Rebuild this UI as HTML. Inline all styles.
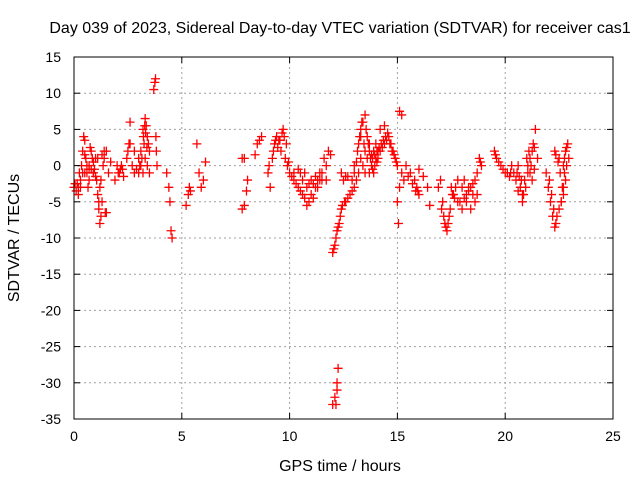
<!DOCTYPE html>
<html><head><meta charset="utf-8"><style>body{margin:0;background:#fff}svg{display:block;font-family:"Liberation Sans",sans-serif}</style></head>
<body>
<svg id="c" width="640" height="480" xmlns="http://www.w3.org/2000/svg">
<text x="340" y="33" font-size="16" text-anchor="middle">Day 039 of 2023, Sidereal Day-to-day VTEC variation (SDTVAR) for receiver cas1</text>
<text x="340" y="471" font-size="16" text-anchor="middle">GPS time / hours</text>
<text x="19" y="238" font-size="16" text-anchor="middle" transform="rotate(-90 19 238)">SDTVAR / TECUs</text>
<g id="grid"></g>
<g id="pts"></g>
<rect x="74" y="57" width="539" height="362" fill="none" stroke="#000"/>
<g id="ticks"></g>
</svg>
<script>
const xTicks=[0,5,10,15,20,25];
const yTicks=[15,10,5,0,-5,-10,-15,-20,-25,-30,-35];
const xs=[0.0,0.1,0.15,0.2,0.25,0.3,0.35,0.4,0.45,0.5,0.55,0.6,0.65,0.7,0.75,0.8,0.85,0.9,0.95,1.0,1.05,1.1,1.15,1.2,1.25,1.3,1.35,1.4,1.45,1.5,1.6,1.7,
0.3,0.5,0.7,0.9,1.1,1.3,1.5,
1.9,2.0,2.1,2.2,2.3,2.5,2.6,2.7,2.8,2.9,3.0,3.1,3.2,
3.0,3.1,3.2,3.3,3.35,3.4,3.45,3.5,
2.6,2.8,3.3,3.4,3.5,
3.7,3.75,3.78,3.8,3.82,3.85,
4.3,4.4,4.45,4.5,4.55,
5.2,5.3,5.35,5.4,
5.7,5.8,5.9,6.0,6.1,
7.8,7.9,7.8,7.9,8.0,8.05,
8.4,8.5,8.6,8.7,
9.0,9.1,9.2,9.3,9.4,9.5,9.6,9.7,9.75,9.8,9.9,
10.0,10.2,10.4,10.6,10.8,11.0,11.2,11.4,11.6,11.8,
10.2,10.4,10.6,10.8,11.0,11.2,11.4,
12.0,12.1,12.2,12.3,12.4,12.6,12.8,13.0,13.1,13.2,
12.0,12.1,12.2,12.25,
12.4,12.5,12.6,12.7,
13.0,13.2,13.4,13.5,13.6,13.7,13.8,13.9,14.0,14.2,14.4,14.6,14.8,14.9,15.0,
13.3,13.5,13.7,14.2,14.4,
15.0,15.05,15.1,15.2,15.3,
15.1,15.2,
15.4,15.6,15.8,15.9,16.0,
16.0,16.2,16.4,16.5,
17.0,17.1,17.2,17.3,17.4,
17.5,17.6,17.8,18.0,18.2,18.4,18.6,18.8,18.9,
17.8,18.0,18.2,18.4,18.6,
19.5,19.6,19.8,20.0,20.2,20.3,
20.5,20.6,20.7,20.8,20.9,21.0,21.1,21.2,21.3,21.4,21.5,
20.4,20.6,20.8,
21.9,22.0,22.1,22.2,22.3,22.4,
22.3,22.5,22.7,22.8,22.9,22.95,22.8,22.7,22.6,22.5,
0.05,0.2,0.4,0.6,0.8,1.0,1.2,1.4,0.5,0.7,0.9,1.15,1.25,
2.05,2.15,2.25,2.45,2.55,3.05,3.15,3.25,3.28,3.32,3.38,3.22,
9.05,9.25,9.35,9.45,9.55,9.65,9.85,9.95,
10.1,10.3,10.5,10.7,10.9,11.1,11.3,11.5,11.7,11.9,10.5,10.7,10.9,11.1,11.3,11.5,11.7,
12.05,12.15,12.25,12.35,12.45,12.55,12.7,12.9,12.15,12.2,
12.9,13.0,13.1,13.15,13.25,13.3,13.35,13.45,13.55,13.65,13.75,13.85,13.95,14.05,14.1,14.3,14.5,14.7,14.85,14.95,
13.3,13.4,13.5,13.6,13.7,13.8,13.9,14.0,14.1,
13.85,13.95,14.05,14.15,14.25,14.35,14.45,14.55,14.65,14.75,
15.5,15.7,15.85,15.95,
16.9,17.05,17.15,17.25,17.35,17.45,17.55,17.65,17.7,17.9,18.1,18.3,18.5,18.7,18.85,18.1,18.3,18.5,18.7,
19.55,19.7,19.9,20.1,20.25,
20.55,20.65,20.75,20.85,20.95,21.05,21.15,21.25,21.35,21.05,21.15,21.25,21.35,
22.05,22.15,22.25,22.35,
22.35,22.45,22.55,22.65,22.75,22.85,22.6,22.7,22.75,22.85];
const ys=[-3,-3.5,-2.5,-4,-1,-2,0,2,4,3.5,1,-1,-3,-2,2.5,2,1,-1,-0.5,1,-2,-4,-6,-8,-7,-5,0,2,-6.5,-6.5,-1,0.5,
-3,-1,0,-1,1,1.5,2,
-2,0,-1,0,-1.5,2,6,0,-1,-0.5,-1,0,-1,
1,2,5,6.5,5.5,4,3,2,
3,2,1,0,-1,
10.5,11.5,12,4,2,0,
-1,-3,-5,-9,-10,
-5.5,-4,-3,-3.5,
3,-1,-3,-2,0.5,
1,1,-6,-5.5,-3.5,-2,
1.5,3,3.5,4,
-1,-3,1,3,4,3.5,2,5,4,1,0,
-1,-2,-3,-4,-5.5,-4,-3,-1,1,2,
-1,-0.5,-2,-3,-2,-1.5,-2,
-12,-11,-9,-8,-6,-5,-4,-3,-2,-1,
-33,-32,-30,-28,
-1,-2,-1.5,-1.5,
0,3,6,7,4,2,0,-1,1,2,3,4,2,1,0,
4,-1,3,5,5.5,
-5,-8,-3,-1,-2,
7.5,7,
0,-1,-2,-3,-4,
-0.5,-1.5,-3,-5.5,
-2,-5,-8,-9,-7,
-3,-4,-5,-6,-4,-3,-2,1,0,
-2,-3,-5,-6,-5,
2,1,0,-1,-1.5,0,
-2,0,-3,-5,-2,1,2,0,3,5,1,
-1,-3.5,-4,
-1,-3,-5,-7,-8.5,-7,
2,1,0,2,3,1,-2,-4,-5,-6,
-2.5,-3,-1,0,-0.5,-1.5,-3,1,1.5,-0.5,0.5,-5,-2,
-1,-0.5,-0.5,1,3,0,1,3,5.5,4.5,2.5,4,
0,2,3.5,2.5,3.5,4.5,3,0.5,
-1.5,-2.5,-3.5,-4.5,-5,-4.5,-3,-2,0,1.5,-1,-1,-2.5,-2.5,-2,-1,-2,
-11.5,-10,-8.5,-7,-5.5,-5,-4.5,-3.5,-33,-31,
-2,-1,0.5,2,4,5,6,3,5,3,1,-0.5,0,0.5,2,2.5,3.5,3,1.5,0.5,
1,0,2,1,-1,1.5,2,3,1,
1,1.5,2,2.5,3,3.5,4,4.5,3,2,
-1.5,-2.5,-3.5,-3.5,
-3,-6,-7,-8.5,-8,-6,-4,-4.5,-3,-5,-4.5,-3.5,-2.5,-1,0.5,-2,-3,-4,-4,
1.5,0.5,-0.5,-1,-1,
-1,-1.5,-2,-4,-3,0,1,2,2.5,-1,-1,-2,-0.5,
-2,-4,-6,-8,
1.5,0.5,-1,-3,1,2.5,-5,-3,-1,0];
const X0=74,X1=613,Y0=57,Y1=419;
function sx(v){return X0+(v-0)/25*(X1-X0);}
function sy(v){return Y0+(15-v)/50*(Y1-Y0);}
const NS='http://www.w3.org/2000/svg';
const grid=document.getElementById('grid'),ticks=document.getElementById('ticks'),pts=document.getElementById('pts');
function mk(t,a,p){const e=document.createElementNS(NS,t);for(const k in a)e.setAttribute(k,a[k]);p.appendChild(e);return e;}
xTicks.forEach(v=>{const x=sx(v);
 if(v>0&&v<25){const g=mk('line',{x1:x,x2:x,y1:Y0,y2:Y1,stroke:'#a0a0a0','stroke-dasharray':'2,3'},grid);
 
 }
 mk('line',{x1:x,x2:x,y1:Y1,y2:Y1-6,stroke:'#000'},ticks);mk('line',{x1:x,x2:x,y1:Y0,y2:Y0+6,stroke:'#000'},ticks);
 const t=mk('text',{x:x,y:Y1+22,'font-size':14,'text-anchor':'middle'},ticks);t.textContent=v;
 
 });
yTicks.forEach(v=>{const y=sy(v);
 if(v<15&&v>-35){const g=mk('line',{x1:X0,x2:X1,y1:y,y2:y,stroke:'#a0a0a0','stroke-dasharray':'2,3'},grid);
 
 }
 mk('line',{x1:X0,x2:X0+6,y1:y,y2:y,stroke:'#000'},ticks);mk('line',{x1:X1,x2:X1-6,y1:y,y2:y,stroke:'#000'},ticks);
 const t=mk('text',{x:X0-13,y:y+5,'font-size':14,'text-anchor':'end'},ticks);t.textContent=v;
 
 });
for(let i=0;i<xs.length;i++){const x=sx(xs[i]),y=sy(ys[i]);
 const p=mk('path',{d:`M${x-4.5} ${y}h9M${x} ${y-4.5}v9`,stroke:'#ff0000','stroke-width':1.3,fill:'none'},pts);
 
 }
</script>
</body></html>
